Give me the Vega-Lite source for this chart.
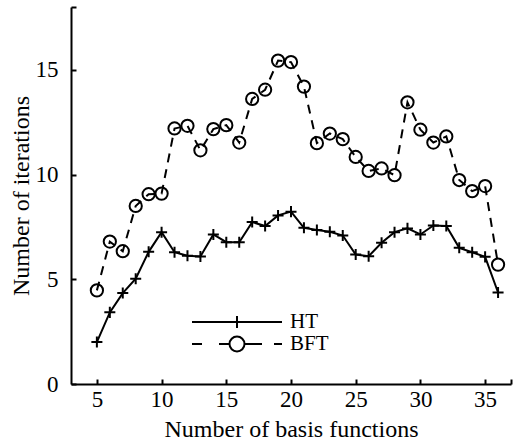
{
  "$schema": "https://vega.github.io/schema/vega-lite/v6.json",
  "width": 440,
  "height": 377,
  "autosize": {"type": "none"},
  "padding": {"left": 71, "top": 7, "right": 2, "bottom": 64},
  "background": "white",
  "config": {
    "view": {"stroke": null},
    "font": "Liberation Serif",
    "axis": {
      "domainColor": "black", "domainWidth": 2, "tickColor": "black", "tickWidth": 2,
      "tickSize": -5, "labelFont": "Liberation Serif", "labelFontSize": 23, "labelColor": "black",
      "titleFont": "Liberation Serif", "titleFontSize": 24, "titleFontWeight": "normal", "titleColor": "black",
      "grid": false
    }
  },
  "data": {"values": [
    {"n":5,"series":"HT","v":2.0},{"n":6,"series":"HT","v":3.42},{"n":7,"series":"HT","v":4.34},{"n":8,"series":"HT","v":5.03},
    {"n":9,"series":"HT","v":6.31},{"n":10,"series":"HT","v":7.25},{"n":11,"series":"HT","v":6.29},{"n":12,"series":"HT","v":6.12},
    {"n":13,"series":"HT","v":6.09},{"n":14,"series":"HT","v":7.14},{"n":15,"series":"HT","v":6.77},{"n":16,"series":"HT","v":6.77},
    {"n":17,"series":"HT","v":7.73},{"n":18,"series":"HT","v":7.54},{"n":19,"series":"HT","v":8.05},{"n":20,"series":"HT","v":8.23},
    {"n":21,"series":"HT","v":7.46},{"n":22,"series":"HT","v":7.35},{"n":23,"series":"HT","v":7.27},{"n":24,"series":"HT","v":7.09},
    {"n":25,"series":"HT","v":6.18},{"n":26,"series":"HT","v":6.1},{"n":27,"series":"HT","v":6.74},{"n":28,"series":"HT","v":7.25},
    {"n":29,"series":"HT","v":7.43},{"n":30,"series":"HT","v":7.14},{"n":31,"series":"HT","v":7.57},{"n":32,"series":"HT","v":7.54},
    {"n":33,"series":"HT","v":6.5},{"n":34,"series":"HT","v":6.29},{"n":35,"series":"HT","v":6.07},{"n":36,"series":"HT","v":4.37},
    {"n":5,"series":"BFT","v":4.47},{"n":6,"series":"BFT","v":6.8},{"n":7,"series":"BFT","v":6.34},{"n":8,"series":"BFT","v":8.5},
    {"n":9,"series":"BFT","v":9.06},{"n":10,"series":"BFT","v":9.09},{"n":11,"series":"BFT","v":12.2},{"n":12,"series":"BFT","v":12.33},
    {"n":13,"series":"BFT","v":11.16},{"n":14,"series":"BFT","v":12.17},{"n":15,"series":"BFT","v":12.36},{"n":16,"series":"BFT","v":11.53},
    {"n":17,"series":"BFT","v":13.61},{"n":18,"series":"BFT","v":14.05},{"n":19,"series":"BFT","v":15.44},{"n":20,"series":"BFT","v":15.37},
    {"n":21,"series":"BFT","v":14.2},{"n":22,"series":"BFT","v":11.5},{"n":23,"series":"BFT","v":11.96},{"n":24,"series":"BFT","v":11.69},
    {"n":25,"series":"BFT","v":10.84},{"n":26,"series":"BFT","v":10.17},{"n":27,"series":"BFT","v":10.29},{"n":28,"series":"BFT","v":9.97},
    {"n":29,"series":"BFT","v":13.45},{"n":30,"series":"BFT","v":12.14},{"n":31,"series":"BFT","v":11.53},{"n":32,"series":"BFT","v":11.82},
    {"n":33,"series":"BFT","v":9.74},{"n":34,"series":"BFT","v":9.21},{"n":35,"series":"BFT","v":9.45},{"n":36,"series":"BFT","v":5.7}
  ]},
  "encoding": {
    "x": {"field": "n", "type": "quantitative",
      "scale": {"domain": [3, 37], "nice": false, "zero": false},
      "axis": {"values": [5,10,15,20,25,30,35,37], "labelExpr": "datum.value == 37 ? '' : datum.label",
        "labelPadding": 9, "title": "Number of basis functions", "titlePadding": 6}},
    "y": {"field": "v", "type": "quantitative",
      "scale": {"domain": [0, 18], "nice": false},
      "axis": {"values": [0,5,10,15,18], "labelExpr": "datum.value == 18 ? '' : datum.label",
        "labelPadding": 18, "title": "Number of iterations", "titlePadding": 2}}
  },
  "resolve": {"scale": {"shape": "independent"}, "legend": {"shape": "independent"}},
  "layer": [
    {
      "transform": [{"filter": "datum.series === 'HT'"}],
      "mark": {"type": "line", "color": "black", "strokeWidth": 2}
    },
    {
      "transform": [{"filter": "datum.series === 'BFT'"}],
      "mark": {"type": "line", "color": "black", "strokeWidth": 2, "strokeDash": [9, 7]}
    },
    {
      "mark": {"type": "point", "filled": false, "color": "black", "strokeWidth": 2, "size": 150, "opacity": 1},
      "encoding": {
        "shape": {"field": "series", "type": "nominal",
          "scale": {"domain": ["HT","BFT"], "range": ["M-0.9,0H0.9M0,-0.9V0.9", "circle"]},
          "legend": null}
      }
    },
    {
      "transform": [{"filter": "false"}],
      "mark": {"type": "point", "filled": false, "color": "black", "strokeWidth": 2, "size": 400, "opacity": 1},
      "encoding": {
        "shape": {"field": "series", "type": "nominal",
          "scale": {"domain": ["HT","BFT"], "range": ["M-4.5,0H4.5M0,-0.6V0.6", "M-4.5,0H-3.5M-1.8,0H-0.75M0.75,0H2.5M3.7,0H4.5M-0.75,0A0.75,0.75 0 1,0 0.75,0A0.75,0.75 0 1,0 -0.75,0"]},
          "legend": {
            "title": null, "orient": "none", "legendX": 121, "legendY": 304, "padding": 0,
            "symbolSize": 400, "symbolOffset": 34, "labelOffset": 42, "rowPadding": 0,
            "labelFont": "Liberation Serif", "labelFontSize": 21, "labelColor": "black", "labelBaseline": "middle",
            "symbolStrokeWidth": 2, "symbolStrokeColor": "black", "symbolFillColor": "transparent", "symbolOpacity": 1
          }}
      }
    }
  ]
}
